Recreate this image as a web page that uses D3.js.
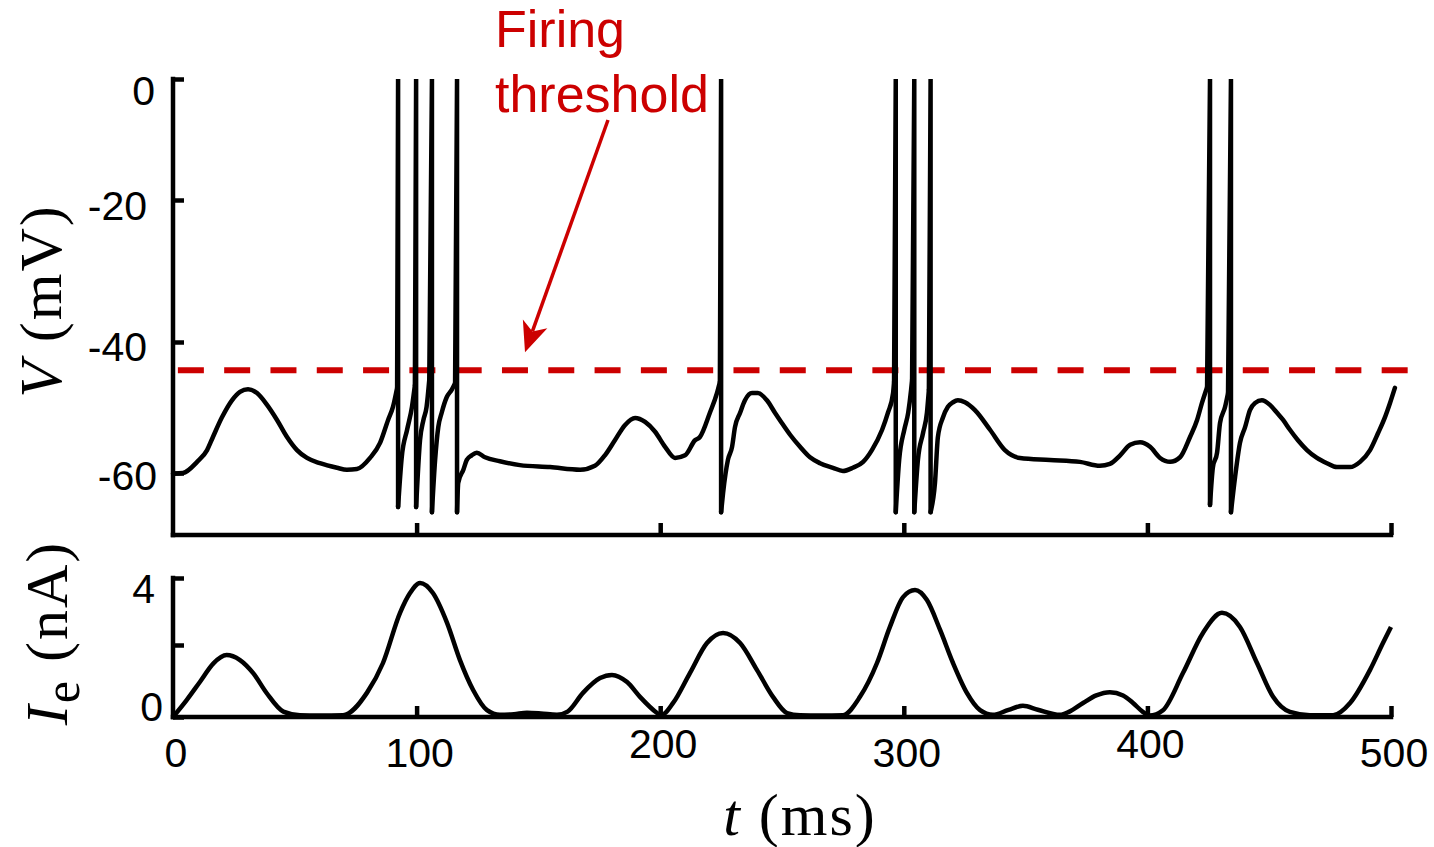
<!DOCTYPE html>
<html><head><meta charset="utf-8">
<script src="https://cdn.jsdelivr.net/npm/d3@7"></script>
<style>
html,body{margin:0;padding:0;background:#fff;}
svg{display:block;background:#fff;}
</style></head><body>
<svg id="chart" width="1434" height="847"></svg>
<script>
// ---------------- data ----------------
// membrane potential V (mV) vs time t (ms); spikes are vertical strokes (same t, peak 0 then trough)
const vTime = [0,4.1,9.9,14.0,16.4,20.1,24.2,27.5,30.8,34.5,38.6,42.7,46.8,50.9,55.0,60.3,67.3,71.4,75.5,80.9,85.0,88.3,90.3,92.0,
  92.4,92.4,93.9,96.1,98.1,99.3,
  99.8,99.8,101.4,102.8,104.1,105.2,
  106.3,106.3,107.6,108.9,110.3,112.4,114.4,115.8,
  116.6,116.6,117.1,119.2,120.6,122.6,124.7,128.1,134.2,142.4,154.8,167.1,173.2,177.3,181.4,185.5,189.7,193.8,197.9,202.0,206.1,210.2,214.3,216.3,220.4,223.3,224.5,
  225.0,225.0,225.8,227.8,229.5,230.7,232.8,234.8,237.7,240.1,243.8,247.1,250.0,253.4,257.4,261.5,265.6,270.9,275.0,279.1,283.3,286.9,291.1,293.5,295.6,296.0,
  296.7,296.7,298.1,300.2,301.8,303.0,303.4,
  304.3,304.3,305.8,307.9,309.5,310.3,
  311.0,311.0,312.8,314.0,316.1,318.1,320.2,322.2,325.1,329.2,335.4,341.5,347.7,360.0,372.3,380.5,384.6,388.8,392.9,397.0,401.1,405.2,409.3,413.4,417.5,420.4,422.4,424.5,
  425.7,425.7,426.9,428.6,429.8,431.9,433.1,
  434.3,434.3,436.0,438.0,440.1,442.1,444.2,447.0,450.3,453.2,455.7,458.5,461.8,465.5,469.6,473.7,477.8,483.2,487.3,491.4,494.7,497.5,499.6,501.6];
const vValue = [-60.1,-60.0,-58.3,-56.5,-54.5,-51.5,-48.9,-47.6,-47.2,-47.8,-49.6,-51.9,-54.5,-56.5,-57.7,-58.5,-59.2,-59.5,-59.4,-57.7,-55.4,-51.9,-49.9,-47.0,
  0,-65.2,-57.6,-53.4,-49.9,-46.6,
  0,-65.2,-55.0,-51.9,-49.9,-45.8,
  0,-66.0,-58.0,-53.0,-50.8,-48.4,-47.3,-46.3,
  0,-66.0,-61.5,-59.5,-58.0,-57.3,-56.9,-57.6,-58.2,-58.8,-59.1,-59.5,-58.9,-57.3,-55.0,-52.7,-51.6,-52.2,-53.7,-56.0,-57.7,-57.3,-55.0,-54.5,-50.8,-47.8,-46.1,
  0,-66.0,-63.1,-58.0,-56.0,-53.0,-50.8,-48.9,-47.8,-47.8,-48.9,-50.8,-52.4,-54.2,-56.0,-57.6,-58.5,-59.2,-59.7,-59.2,-58.3,-56.5,-53.4,-50.8,-47.8,-46.1,
  0,-66.0,-58.0,-53.4,-50.8,-47.3,-45.8,
  0,-66.0,-58.0,-53.9,-50.8,-47.3,
  0,-66.0,-61.5,-54.5,-51.5,-49.9,-49.2,-48.9,-49.2,-50.4,-53.4,-56.5,-57.7,-58.0,-58.3,-58.9,-58.6,-57.3,-55.7,-55.3,-56.0,-57.7,-58.3,-57.6,-54.5,-51.9,-49.3,-46.9,
  0,-64.9,-59.1,-56.9,-52.4,-49.9,-47.8,
  0,-66.0,-60.6,-55.4,-53.0,-50.4,-49.3,-48.9,-49.6,-50.8,-51.9,-53.4,-55.0,-56.5,-57.7,-58.5,-59.1,-59.1,-58.3,-56.5,-53.9,-51.5,-49.3,-47.0];

// injected current Ie (nA) vs time t (ms)
const iTime = [0,5.6,11.1,16.6,22,27.5,33,38.5,45.3,52.1,60,69.8,79.6,86.2,93.2,97.3,101.4,106.7,112.5,117.8,123.2,
  128.9,134.2,140,145.3,151,157.6,162,168.3,175.3,180.2,186.4,191.7,198.7,200.2,205.3,212.2,219.2,225.8,232.8,239.7,
  246.3,252.1,257.4,266,275.0,282.0,289.0,294.3,299.7,304.6,309.5,314.9,320.2,325.9,331.3,336.6,343,348.9,355,364.1,
  368,373.6,379,384.6,390,394.1,398,400.8,406.4,414.6,422.8,430.6,438.0,445.0,451.6,458.5,466.7,476.2,483.2,491.4,496.7,500];
const iValue = [0,0.47,0.98,1.49,1.72,1.58,1.21,0.66,0.15,0.05,0.04,0.05,0.67,1.5,2.96,3.55,3.85,3.55,2.66,1.58,0.75,
  0.19,0.06,0.08,0.12,0.1,0.06,0.15,0.67,1.08,1.17,0.97,0.56,0.11,0.04,0.39,1.22,2.06,2.36,2.06,1.31,
  0.56,0.11,0.05,0.04,0.05,0.56,1.5,2.54,3.43,3.64,3.34,2.45,1.5,0.67,0.19,0.06,0.2,0.31,0.2,0.06,
  0.15,0.39,0.6,0.69,0.6,0.39,0.15,0.04,0.19,1.22,2.36,2.96,2.54,1.5,0.56,0.14,0.05,0.05,0.39,1.31,2.06,2.54];

const threshold = -44.3;          // mV, firing threshold
const thresholdSpan = [2, 507.5]; // ms extent of dashed line
const vTicks = [0, -20, -40, -60];
const iTicks = [0, 2, 4];
const iTickLabels = ["0", "", "4"];
const tTicks = [0, 100, 200, 300, 400, 500];
const annotationLines = ["Firing", "threshold"];

// ---------------- layout ----------------
const svg = d3.select("#chart");
const RED = "#cc0000";
const SANS = "'Liberation Sans', Arial, Helvetica, sans-serif";
const SERIF = "'Liberation Serif', 'Times New Roman', serif";

const x = d3.scaleLinear().domain([0, 500]).range([173, 1391]);
// piecewise scales reproduce the original figure's tick spacing
const yV = d3.scaleLinear().domain([0, -20, -40, -60, -69.5]).range([79, 200, 342, 473, 535]);
const yI = d3.scaleLinear().domain([0, 2, 4]).range([717, 645, 578]);

const AX = 4.5;

// ---- top panel axes ----
const vLabelNudge = {"0": [2, 11], "-20": [-6, 5], "-40": [-6, 4], "-60": [4, 2]};
const gVy = svg.append("g").attr("transform", `translate(${x(0)},0)`)
  .call(d3.axisLeft(yV).tickValues(vTicks).tickSize(-11).tickSizeOuter(0).tickPadding(20).tickFormat(d => String(d)));
gVy.select(".domain").remove();
gVy.selectAll(".tick line").attr("stroke", "#000").attr("stroke-width", AX);
gVy.selectAll(".tick text")
  .attr("font-family", SANS).attr("font-size", 41).attr("fill", "#000")
  .attr("dy", "0.36em")
  .attr("x", d => -20 + vLabelNudge[String(d)][0])
  .attr("y", d => vLabelNudge[String(d)][1]);

const gVx = svg.append("g").attr("transform", `translate(0,${yV(-69.5)})`)
  .call(d3.axisBottom(x).tickValues(tTicks.slice(1)).tickSize(-12).tickSizeOuter(0).tickFormat(""));
gVx.select(".domain").remove();
gVx.selectAll(".tick line").attr("stroke", "#000").attr("stroke-width", AX);

svg.append("line").attr("x1", x(0)).attr("x2", x(0)).attr("y1", yV(0)).attr("y2", yV(-69.5))
  .attr("stroke", "#000").attr("stroke-width", AX).attr("stroke-linecap", "square");
svg.append("line").attr("x1", x(0)).attr("x2", x(500)).attr("y1", yV(-69.5)).attr("y2", yV(-69.5))
  .attr("stroke", "#000").attr("stroke-width", AX).attr("stroke-linecap", "square");

// ---- bottom panel axes ----
const iLabelNudge = {"0": [8, -11], "2": [0, 0], "4": [0, 10]};
const gIy = svg.append("g").attr("transform", `translate(${x(0)},0)`)
  .call(d3.axisLeft(yI).tickValues(iTicks).tickSize(-11).tickSizeOuter(0).tickPadding(18)
    .tickFormat((d, i) => iTickLabels[i]));
gIy.select(".domain").remove();
gIy.selectAll(".tick line").attr("stroke", "#000").attr("stroke-width", AX);
gIy.selectAll(".tick text")
  .attr("font-family", SANS).attr("font-size", 41).attr("fill", "#000")
  .attr("dy", "0.36em")
  .attr("x", d => -18 + iLabelNudge[String(d)][0])
  .attr("y", d => iLabelNudge[String(d)][1]);

const gIx = svg.append("g").attr("transform", `translate(0,${yI(0)})`)
  .call(d3.axisBottom(x).tickValues(tTicks).tickSize(-11).tickSizeOuter(0).tickFormat(d => String(d)));
gIx.select(".domain").remove();
gIx.selectAll(".tick line").attr("stroke", "#000").attr("stroke-width", AX)
  .attr("display", d => d === 0 ? "none" : null);
gIx.selectAll(".tick text")
  .attr("font-family", SANS).attr("font-size", 41).attr("fill", "#000")
  .attr("dy", "0.36em")
  .attr("x", 2.5)
  .attr("y", d => (d === 200 || d === 400) ? 26 : 35);

svg.append("line").attr("x1", x(0)).attr("x2", x(0)).attr("y1", yI(4)).attr("y2", yI(0))
  .attr("stroke", "#000").attr("stroke-width", AX).attr("stroke-linecap", "square");
svg.append("line").attr("x1", x(0)).attr("x2", x(500)).attr("y1", yI(0)).attr("y2", yI(0))
  .attr("stroke", "#000").attr("stroke-width", AX).attr("stroke-linecap", "square");

// ---- threshold dashed line ----
svg.append("line")
  .attr("x1", x(thresholdSpan[0])).attr("x2", x(thresholdSpan[1]))
  .attr("y1", yV(threshold)).attr("y2", yV(threshold))
  .attr("stroke", RED).attr("stroke-width", 6).attr("stroke-dasharray", "26,20.3");

// ---- V trace: smooth sub-threshold segments + straight spike strokes ----
const vData = d3.zip(vTime, vValue);
const segs = [], spikes = [];
let cur = [];
for (let i = 0; i < vData.length; i++) {
  const p = vData[i];
  if (p[1] === 0 && i + 1 < vData.length && vData[i + 1][0] === p[0]) {
    const pre = cur[cur.length - 1];
    const trough = vData[i + 1];
    segs.push(cur);
    spikes.push([pre, p, trough]);
    cur = [trough];
    i++;
  } else cur.push(p);
}
segs.push(cur);

const smoothLine = d3.line().x(d => x(d[0])).y(d => yV(d[1])).curve(d3.curveMonotoneX);
const straightLine = d3.line().x(d => x(d[0])).y(d => yV(d[1])).curve(d3.curveLinear);
const gV = svg.append("g").attr("fill", "none").attr("stroke", "#000").attr("stroke-width", 4.5)
  .attr("stroke-linecap", "round");
gV.selectAll("path.seg").data(segs).join("path").attr("class", "seg").attr("d", smoothLine)
  .attr("stroke-linejoin", "round");
gV.selectAll("path.spike").data(spikes).join("path").attr("class", "spike").attr("d", straightLine)
  .attr("stroke-linejoin", "miter").attr("stroke-miterlimit", 2);

// ---- Ie trace ----
const iData = d3.zip(iTime, iValue);
svg.append("path").datum(iData)
  .attr("d", d3.line().x(d => x(d[0])).y(d => yI(d[1])).curve(d3.curveMonotoneX))
  .attr("fill", "none").attr("stroke", "#000").attr("stroke-width", 4.5)
  .attr("stroke-linejoin", "round");

// ---- annotation ----
const ann = svg.append("g");
ann.selectAll("text").data(annotationLines).join("text")
  .attr("x", 495).attr("y", (d, i) => 47 + i * 65)
  .attr("font-family", SANS).attr("font-size", 52).attr("fill", RED)
  .text(d => d);

const tail = [608, 120];
const tip = [x(144.5), yV(threshold) - 18];
const dx = tip[0] - tail[0], dy = tip[1] - tail[1];
const L = Math.hypot(dx, dy), ux = dx / L, uy = dy / L, nx = -uy, ny = ux;
const headLen = 30, headW = 13, notch = 22;
ann.append("line").attr("x1", tail[0]).attr("y1", tail[1])
  .attr("x2", tip[0] - ux * notch).attr("y2", tip[1] - uy * notch)
  .attr("stroke", RED).attr("stroke-width", 3.5);
const bx = tip[0] - ux * headLen, by = tip[1] - uy * headLen;
ann.append("path")
  .attr("d", `M${tip[0]},${tip[1]}L${bx + nx * headW},${by + ny * headW}L${tip[0] - ux * notch},${tip[1] - uy * notch}L${bx - nx * headW},${by - ny * headW}Z`)
  .attr("fill", RED);

// ---- axis titles ----
const vt = svg.append("text").attr("transform", "translate(61,301) rotate(-90)")
  .attr("text-anchor", "middle").attr("font-family", SERIF).attr("font-size", 60)
  .attr("letter-spacing", 2).attr("fill", "#000");
vt.append("tspan").attr("font-style", "italic").text("V");
vt.append("tspan").text(" (mV)");

const it = svg.append("text").attr("transform", "translate(67,633) rotate(-90)")
  .attr("text-anchor", "middle").attr("font-family", SERIF).attr("font-size", 60)
  .attr("letter-spacing", 2).attr("fill", "#000");
it.append("tspan").attr("font-style", "italic").text("I");
it.append("tspan").attr("font-size", 50).attr("dy", 12).text("e");
it.append("tspan").attr("dy", -12).text(" (nA)");

const xt = svg.append("text").attr("x", 800).attr("y", 835)
  .attr("text-anchor", "middle").attr("font-family", SERIF).attr("font-size", 60)
  .attr("letter-spacing", 2).attr("fill", "#000");
xt.append("tspan").attr("font-style", "italic").text("t");
xt.append("tspan").text(" (ms)");
</script>
</body></html>
